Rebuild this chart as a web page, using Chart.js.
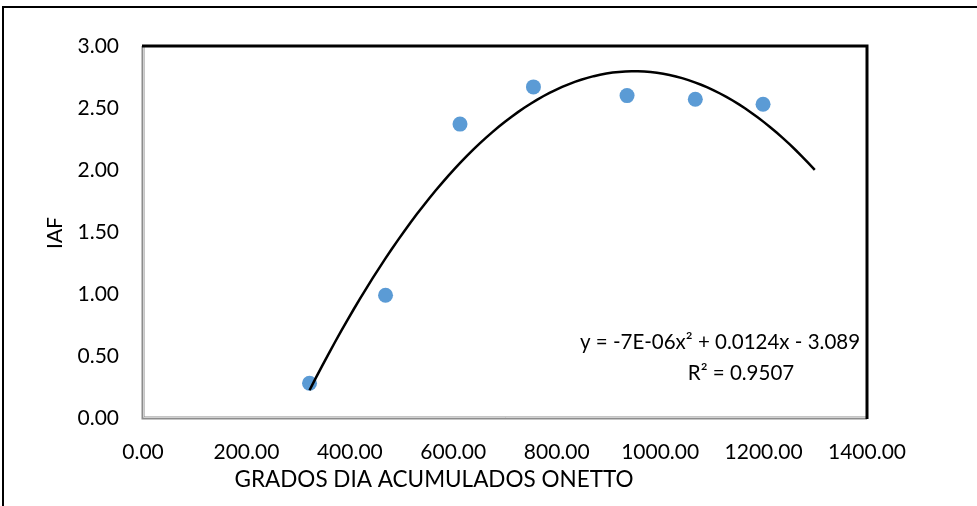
<!DOCTYPE html>
<html>
<head>
<meta charset="utf-8">
<script src="https://cdn.jsdelivr.net/npm/chart.js@4"></script>
<style>
html,body{margin:0;padding:0;background:#fff;}
#wrap{width:977px;height:506px;position:relative;}
</style>
</head>
<body>
<div id="wrap"><canvas id="c" width="977" height="506"></canvas></div>
<script>
// Data
const gradosDia = [322, 469, 613, 755, 936, 1068, 1199];
const iaf = [0.28, 0.99, 2.37, 2.67, 2.60, 2.57, 2.53];
const xTicks = [0, 200, 400, 600, 800, 1000, 1200, 1400];
const yTicks = [0, 0.5, 1, 1.5, 2, 2.5, 3];
const equationText = "y = -7E-06x\u00B2 + 0.0124x - 3.089";
const r2Text = "R\u00B2 = 0.9507";
const xTitle = "GRADOS DIA ACUMULADOS ONETTO";
const yTitle = "IAF";
const trendForward = 100; // trendline forecast forward (units of x)

// Least-squares quadratic fit (Excel polynomial trendline, order 2)
function polyFit2(xs, ys) {
  let n = xs.length, sx=0, sx2=0, sx3=0, sx4=0, sy=0, sxy=0, sx2y=0;
  for (let i=0;i<n;i++){const x=xs[i], y=ys[i];
    sx+=x; sx2+=x*x; sx3+=x*x*x; sx4+=x*x*x*x; sy+=y; sxy+=x*y; sx2y+=x*x*y;}
  const M=[[n,sx,sx2,sy],[sx,sx2,sx3,sxy],[sx2,sx3,sx4,sx2y]];
  for (let i=0;i<3;i++){
    let p=i; for(let k=i+1;k<3;k++) if(Math.abs(M[k][i])>Math.abs(M[p][i])) p=k;
    [M[i],M[p]]=[M[p],M[i]];
    for(let k=i+1;k<3;k++){const f=M[k][i]/M[i][i]; for(let j=i;j<4;j++) M[k][j]-=f*M[i][j];}
  }
  const r=[0,0,0];
  for(let i=2;i>=0;i--){let s=M[i][3]; for(let j=i+1;j<3;j++) s-=M[i][j]*r[j]; r[i]=s/M[i][i];}
  return r; // c, b, a
}
const coef = polyFit2(gradosDia, iaf);
const trend = [];
const x0 = Math.min(...gradosDia), x1 = Math.max(...gradosDia) + trendForward;
for (let i=0;i<=80;i++){const x=x0+(x1-x0)*i/80; trend.push({x:x, y:coef[0]+coef[1]*x+coef[2]*x*x});}

const FONT = "Lato, 'Open Sans', sans-serif";

const decor = {
  id:'decor',
  beforeDraw(chart){
    const ctx=chart.ctx;
    ctx.save();
    ctx.fillStyle='#fff'; ctx.fillRect(0,0,chart.width,chart.height);
    // outer chart frame (only left and top visible)
    ctx.strokeStyle='#000'; ctx.lineWidth=2;
    ctx.beginPath(); ctx.moveTo(3,506); ctx.lineTo(3,7); ctx.lineTo(977,7); ctx.stroke();
    ctx.restore();
  },
  afterDatasetsDraw(chart){
    const ctx=chart.ctx, a=chart.chartArea;
    ctx.save();
    // left & bottom: grey 3D-like border
    ctx.strokeStyle='#8c8c8c'; ctx.lineWidth=3;
    ctx.beginPath(); ctx.moveTo(a.left, a.top); ctx.lineTo(a.left, a.bottom); ctx.lineTo(a.right, a.bottom); ctx.stroke();
    ctx.strokeStyle='#d0d0d0'; ctx.lineWidth=1;
    ctx.beginPath(); ctx.moveTo(a.left+0.5, a.top); ctx.lineTo(a.left+0.5, a.bottom-0.5); ctx.lineTo(a.right, a.bottom-0.5); ctx.stroke();
    // top & right: black
    ctx.strokeStyle='#000'; ctx.lineWidth=3;
    ctx.beginPath(); ctx.moveTo(a.left-1, a.top); ctx.lineTo(a.right, a.top); ctx.lineTo(a.right, a.bottom+1); ctx.stroke();
    // trendline equation
    ctx.fillStyle='#000';
    ctx.font="20.5px "+FONT; ctx.textAlign='center'; ctx.textBaseline='middle';
    ctx.fillText(equationText, 720, 342);
    ctx.fillText(r2Text, 741, 373);
    // axis titles
    ctx.font="22.5px "+FONT;
    ctx.fillText(xTitle, 434, 480);
    ctx.font="21px "+FONT;
    ctx.translate(55, 233); ctx.rotate(-Math.PI/2);
    ctx.fillText(yTitle, 0, 0);
    ctx.restore();
  }
};

new Chart(document.getElementById('c'), {
  type:'scatter',
  data:{datasets:[
    {label:'Tendencia', data:trend, type:'line', showLine:true, borderColor:'#000', borderWidth:2.5,
     pointRadius:0, fill:false, tension:0},
    {label:'IAF', data:gradosDia.map((x,i)=>({x:x,y:iaf[i]})), backgroundColor:'#5B9BD5',
     borderColor:'#5B9BD5', pointRadius:7.5, pointHoverRadius:7.5, borderWidth:0}
  ]},
  options:{
    responsive:false, animation:false, devicePixelRatio:1,
    layout:{padding:{left:0,right:110,top:46,bottom:0}},
    plugins:{legend:{display:false}, tooltip:{enabled:false}},
    scales:{
      x:{type:'linear', min:0, max:1400,
         afterBuildTicks(s){s.ticks=xTicks.map(v=>({value:v}));},
         afterFit(s){s.height=88;},
         grid:{display:false, drawTicks:false}, border:{display:false},
         ticks:{padding:22, color:'#000', font:{family:FONT,size:21}, maxRotation:0, autoSkip:false,
                callback:v=>Number(v).toFixed(2)}},
      y:{type:'linear', min:0, max:3,
         afterBuildTicks(s){s.ticks=yTicks.map(v=>({value:v}));},
         afterFit(s){s.width=143;},
         grid:{display:false, drawTicks:false}, border:{display:false},
         ticks:{padding:24, color:'#000', font:{family:FONT,size:21}, autoSkip:false,
                callback:v=>Number(v).toFixed(2)}}
    }
  },
  plugins:[decor]
});
</script>
</body>
</html>
